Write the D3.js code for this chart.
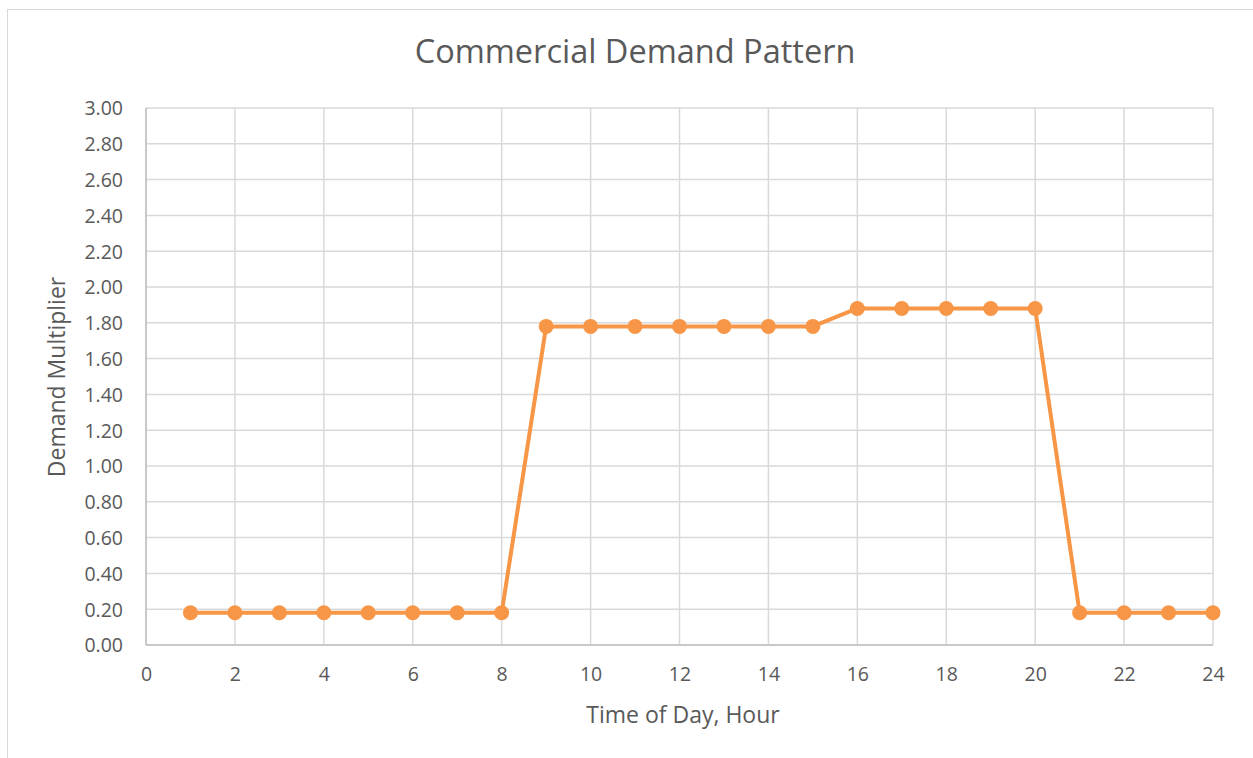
<!DOCTYPE html>
<html><head><meta charset="utf-8">
<script src="https://cdn.jsdelivr.net/npm/d3@7"></script>
<style>body{margin:0;background:#fff;}svg{display:block;font-family:"Open Sans",sans-serif;}</style>
</head><body>
<svg id="c" width="1253" height="758"></svg>
<script>
const hours = [1,2,3,4,5,6,7,8,9,10,11,12,13,14,15,16,17,18,19,20,21,22,23,24];
const multipliers = [0.18,0.18,0.18,0.18,0.18,0.18,0.18,0.18,1.78,1.78,1.78,1.78,1.78,1.78,1.78,1.88,1.88,1.88,1.88,1.88,0.18,0.18,0.18,0.18];
const xTicks = [0,2,4,6,8,10,12,14,16,18,20,22,24];
const yTicks = [0,0.2,0.4,0.6,0.8,1.0,1.2,1.4,1.6,1.8,2.0,2.2,2.4,2.6,2.8,3.0];

const FONT = "'Open Sans', sans-serif";
const svg = d3.select("#c");
svg.append("rect").attr("x",7.5).attr("y",9.5).attr("width",1260).attr("height",760)
  .attr("fill","#fff").attr("stroke","#d9d9d9");

const L=146,R=1213,T=108,B=645;
const x=d3.scaleLinear().domain([0,24]).range([L,R]);
const y=d3.scaleLinear().domain([0,3]).range([B,T]);

const g=svg.append("g");
g.selectAll(".vg").data(xTicks).join("line").attr("x1",d=>x(d)).attr("x2",d=>x(d))
  .attr("y1",T).attr("y2",B).attr("stroke","#d9d9d9").attr("stroke-width",1.5);
g.selectAll(".hg").data(yTicks).join("line").attr("y1",d=>y(d)).attr("y2",d=>y(d))
  .attr("x1",L).attr("x2",R).attr("stroke","#d9d9d9").attr("stroke-width",1.5);
g.append("line").attr("x1",L).attr("x2",R).attr("y1",B).attr("y2",B).attr("stroke","#bfbfbf").attr("stroke-width",1.5);
g.append("line").attr("x1",L).attr("x2",L).attr("y1",T).attr("y2",B).attr("stroke","#bfbfbf").attr("stroke-width",1.5);

const xa=svg.append("g").attr("transform",`translate(0,${B})`)
  .call(d3.axisBottom(x).tickValues(xTicks).tickSize(0).tickPadding(22).tickFormat(d3.format("d")));
const ya=svg.append("g").attr("transform",`translate(${L},0)`)
  .call(d3.axisLeft(y).tickValues(yTicks).tickSize(0).tickPadding(23).tickFormat(d3.format(".2f")));
[xa,ya].forEach(a=>{a.select(".domain").remove();a.selectAll("text").attr("fill","#595959").style("font-size","19.5px").style("font-family",FONT);});
ya.selectAll("text").attr("dy","0.35em");

const line=d3.line().x((d,i)=>x(hours[i])).y(d=>y(d));
svg.append("path").datum(multipliers).attr("d",line).attr("fill","none")
  .attr("stroke","#f79646").attr("stroke-width",4).attr("stroke-linejoin","round");
svg.selectAll(".pt").data(multipliers).join("circle").attr("cx",(d,i)=>x(hours[i])).attr("cy",d=>y(d))
  .attr("r",7.5).attr("fill","#f79646");

svg.append("text").attr("x",635).attr("y",63).attr("text-anchor","middle").attr("fill","#595959")
  .style("font-size","32.5px").style("font-family",FONT).text("Commercial Demand Pattern");
svg.append("text").attr("x",683).attr("y",723).attr("text-anchor","middle").attr("fill","#595959")
  .style("font-size","23px").style("font-family",FONT).text("Time of Day, Hour");
svg.append("text").attr("transform",`translate(65,377) rotate(-90)`).attr("text-anchor","middle").attr("fill","#595959")
  .style("font-size","23px").style("font-family",FONT).text("Demand Multiplier");
</script>
</body></html>
